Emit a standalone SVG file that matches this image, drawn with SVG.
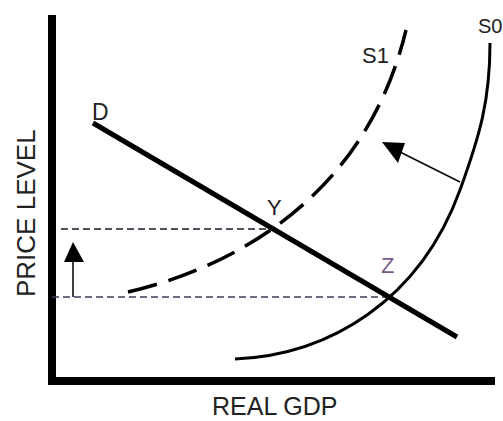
<svg xmlns="http://www.w3.org/2000/svg" width="503" height="421" viewBox="0 0 503 421">
<style>
.lbl{font-family:"Liberation Sans",Arial,sans-serif;fill:#222}
.axis{fill:#000}
.dem{stroke:#000;stroke-width:5;fill:none;stroke-linecap:butt}
.s0{stroke:#000;stroke-width:3;fill:none}
.s1{stroke:#000;stroke-width:3.5;fill:none;stroke-dasharray:30 12}
.hy{stroke:#1a1a2a;stroke-width:1.5;stroke-dasharray:7 4;fill:none}
.hz{stroke:#4a3a5a;stroke-width:1.5;stroke-dasharray:7 4;fill:none}
.thin{stroke:#000;stroke-width:1.5;fill:none}
</style>
<rect width="503" height="421" fill="#fff"/>
<g id="axes">
<rect class="axis" x="48" y="15" width="8" height="370"/>
<rect class="axis" x="48" y="377" width="447" height="8"/>
</g>
<g id="connectors">
<path class="hy" d="M61,229 H275"/>
<path class="hz" d="M52,297 H388"/>
<line class="thin" x1="73" y1="297" x2="73" y2="258"/>
<polygon points="73,242 64,262 84,262" fill="#000"/>
<line class="thin" x1="460" y1="182" x2="396" y2="150"/>
<polygon points="382,142 405,143 398,163" fill="#000"/>
</g>
<g id="curve-D">
<path class="dem" d="M93,123 L457,337"/>
<text class="lbl" x="92" y="120" font-size="23">D</text>
</g>
<g id="curve-S1">
<path class="s1" d="M128,292 C230,268 365,200 406,30"/>
<text class="lbl" x="362" y="63" font-size="22">S1</text>
</g>
<g id="curve-S0">
<path class="s0" d="M235,359 C330,355 420,300 460,190 C480,135 490,100 490,43"/>
<text class="lbl" x="478" y="33" font-size="20">S0</text>
</g>
<g id="point-Y">
<text class="lbl" x="267" y="215" font-size="22">Y</text>
</g>
<g id="point-Z">
<text class="lbl" x="381" y="273" font-size="22" style="fill:#7a5a8a">Z</text>
</g>
<g id="axis-labels">
<text class="lbl" x="212" y="415" font-size="25">REAL GDP</text>
<text class="lbl" transform="translate(35,297) rotate(-90)" font-size="26">PRICE LEVEL</text>
</g>
</svg>
